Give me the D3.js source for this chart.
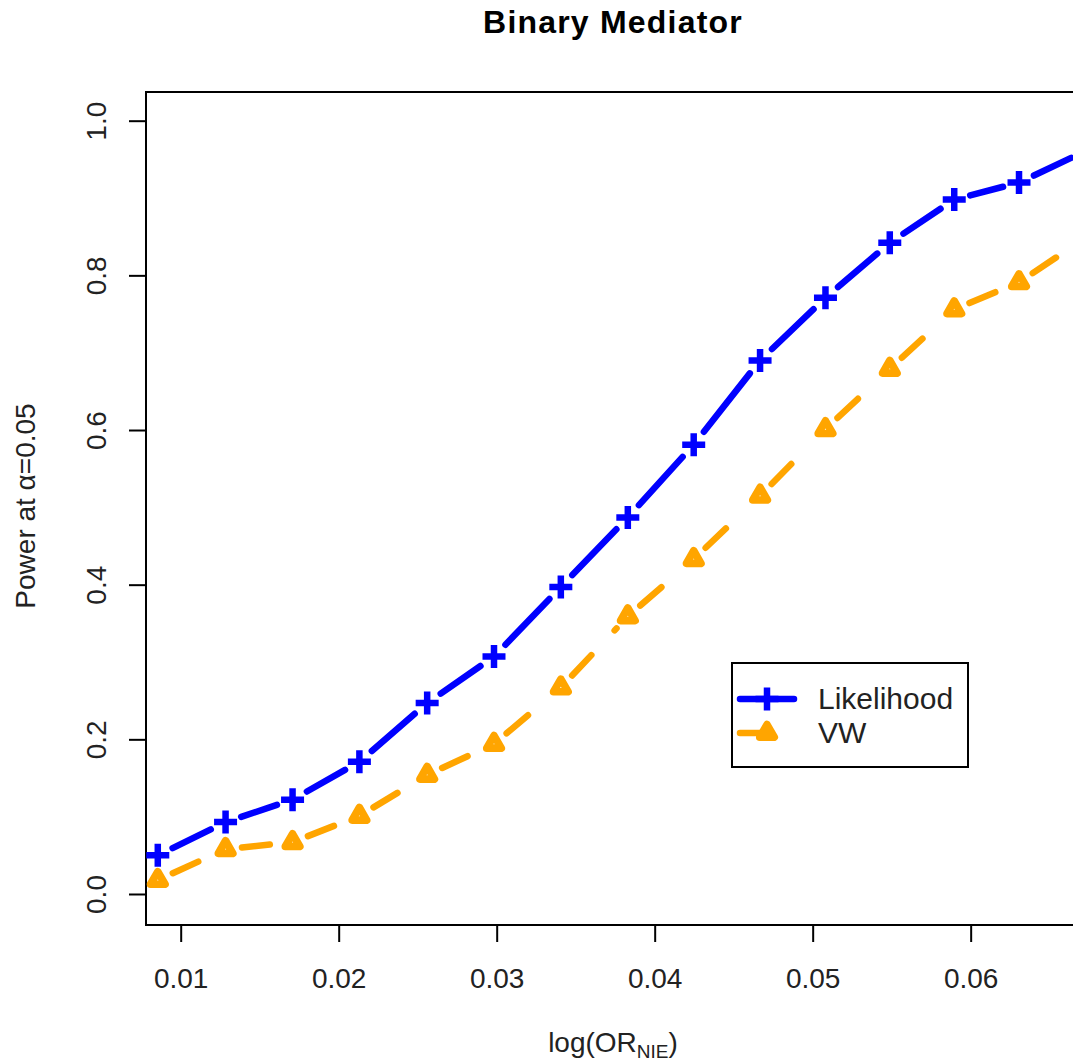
<!DOCTYPE html>
<html>
<head>
<meta charset="utf-8">
<script src="https://cdn.jsdelivr.net/npm/d3@7"></script>
<style>
html,body{margin:0;padding:0;background:#fff;}
svg{display:block;font-family:"Liberation Sans",Arial,sans-serif;}
</style>
</head>
<body>
<svg id="chart" width="1073" height="1061"></svg>
<script>
// ---- data ----
const logOR = [0.00855, 0.01284, 0.01708, 0.02131, 0.02560, 0.02983, 0.03406, 0.03830,
               0.04247, 0.04667, 0.05081, 0.05488, 0.05896, 0.06306, 0.06730];
const likelihood = [0.050, 0.093, 0.122, 0.171, 0.247, 0.307, 0.397, 0.487,
                    0.581, 0.690, 0.771, 0.842, 0.898, 0.920, 0.961];
const vw = [0.018, 0.058, 0.067, 0.101, 0.154, 0.194, 0.267, 0.359,
            0.433, 0.515, 0.601, 0.679, 0.756, 0.791, 0.849];
const xTicks = [0.01, 0.02, 0.03, 0.04, 0.05, 0.06];
const yTicks = [0.0, 0.2, 0.4, 0.6, 0.8, 1.0];
const seriesNames = ["Likelihood", "VW"];
const seriesColors = ["#0000FF", "#FFA500"];

// ---- layout ----
const L = 146, R = 1080, T = 92, B = 925;
const svg = d3.select("#chart");
const x = d3.scaleLinear().domain([0.007804, 0.06692]).range([L, R]);
const y = d3.scaleLinear().domain([-0.0401, 1.0371]).range([B, T]);

svg.append("defs").append("clipPath").attr("id", "plotclip")
  .append("rect").attr("x", L).attr("y", T).attr("width", R - L).attr("height", B - T);

// title
svg.append("text").attr("x", (L + R) / 2).attr("y", 33)
  .attr("text-anchor", "middle").attr("font-weight", "bold")
  .attr("font-size", 32).attr("letter-spacing", 1.2).attr("fill", "#000")
  .text("Binary Mediator");

// axes
const xAxis = d3.axisBottom(x).tickValues(xTicks).tickSize(17).tickPadding(0)
  .tickFormat(d3.format(".2f"));
const gx = svg.append("g").attr("transform", `translate(0,${B})`).call(xAxis);
gx.select(".domain").attr("d", `M${x(xTicks[0])},0H${x(xTicks[xTicks.length-1])}`)
  .attr("stroke", "#000").attr("stroke-width", 2);
gx.selectAll(".tick line").attr("stroke", "#000").attr("stroke-width", 2);
gx.selectAll(".tick text").attr("y", 63).attr("dy", null)
  .attr("font-size", 28).attr("fill", "#222").attr("font-family", "Liberation Sans, Arial, sans-serif");

const yAxis = d3.axisLeft(y).tickValues(yTicks).tickSize(17).tickPadding(0)
  .tickFormat(d3.format(".1f"));
const gy = svg.append("g").attr("transform", `translate(${L},0)`).call(yAxis);
gy.select(".domain").attr("d", `M0,${y(yTicks[0])}V${y(yTicks[yTicks.length-1])}`)
  .attr("stroke", "#000").attr("stroke-width", 2);
gy.selectAll(".tick line").attr("stroke", "#000").attr("stroke-width", 2);
gy.selectAll(".tick text")
  .attr("x", null).attr("dy", null).attr("y", null)
  .attr("text-anchor", "middle")
  .attr("transform", "translate(-40,0) rotate(-90)")
  .attr("font-size", 28).attr("fill", "#222").attr("font-family", "Liberation Sans, Arial, sans-serif");

// plot box
svg.append("rect").attr("x", L).attr("y", T).attr("width", R - L).attr("height", B - T)
  .attr("fill", "none").attr("stroke", "#000").attr("stroke-width", 2);

// axis titles
const xt = svg.append("text").attr("x", (L + R) / 2).attr("y", 1052)
  .attr("text-anchor", "middle").attr("font-size", 28).attr("fill", "#222");
xt.append("tspan").text("log(OR");
xt.append("tspan").attr("font-size", 19).attr("dy", 6).text("NIE");
xt.append("tspan").attr("dy", -6).text(")");

svg.append("text").attr("transform", "translate(35,506) rotate(-90)")
  .attr("text-anchor", "middle").attr("font-size", 28).attr("fill", "#222")
  .text("Power at \u03B1=0.05");

// series
const plot = svg.append("g").attr("clip-path", "url(#plotclip)");
const gap = 16.5;
function segments(vals) {
  const pts = logOR.map((d, i) => [x(d), y(vals[i])]);
  const segs = [];
  for (let i = 0; i < pts.length - 1; i++) {
    const [x0, y0] = pts[i], [x1, y1] = pts[i + 1];
    const len = Math.hypot(x1 - x0, y1 - y0);
    if (len <= 2 * gap) continue;
    const ux = (x1 - x0) / len, uy = (y1 - y0) / len;
    segs.push([x0 + ux * gap, y0 + uy * gap, x1 - ux * gap, y1 - uy * gap]);
  }
  return { pts, segs };
}
function crossPath(s) { return `M${-s},0H${s}M0,${-s}V${s}`; }
const triS = 5.4;
function triPath() {
  const r = 1.555 * triS, xc = 1.347 * triS, yc = 0.778 * triS;
  return `M0,${-r}L${xc},${yc}L${-xc},${yc}Z`;
}

const series = [likelihood, vw];
series.forEach((vals, k) => {
  const { pts, segs } = segments(vals);
  const g = plot.append("g");
  g.selectAll("line").data(segs).join("line")
    .attr("x1", d => d[0]).attr("y1", d => d[1]).attr("x2", d => d[2]).attr("y2", d => d[3])
    .attr("stroke", seriesColors[k]).attr("stroke-width", 6.5)
    .attr("stroke-linecap", "round")
    .attr("stroke-dasharray", k === 1 ? "28,34" : null);
  g.selectAll("path").data(pts).join("path")
    .attr("transform", d => `translate(${d[0]},${d[1]})`)
    .attr("d", k === 0 ? crossPath(11.5) : triPath())
    .attr("fill", "none").attr("stroke", seriesColors[k])
    .attr("stroke-width", k === 0 ? 6.5 : 7.6).attr("stroke-linejoin", "round");
});

// legend
const lg = svg.append("g");
lg.append("rect").attr("x", 732).attr("y", 663).attr("width", 236).attr("height", 104)
  .attr("fill", "#fff").attr("stroke", "#000").attr("stroke-width", 2);
const legY = [699, 733];
seriesNames.forEach((name, k) => {
  lg.append("line").attr("x1", 740).attr("x2", 794).attr("y1", legY[k]).attr("y2", legY[k])
    .attr("stroke", seriesColors[k]).attr("stroke-width", 6.5).attr("stroke-linecap", "round")
    .attr("stroke-dasharray", k === 1 ? "28,34" : null);
  lg.append("path").attr("transform", `translate(767,${legY[k]})`)
    .attr("d", k === 0 ? crossPath(11.5) : triPath())
    .attr("fill", "none").attr("stroke", seriesColors[k])
    .attr("stroke-width", k === 0 ? 6.5 : 7.6).attr("stroke-linejoin", "round");
  lg.append("text").attr("x", 818).attr("y", legY[k] + 10)
    .attr("font-size", 30).attr("fill", "#222").text(name);
});
</script>
</body>
</html>
